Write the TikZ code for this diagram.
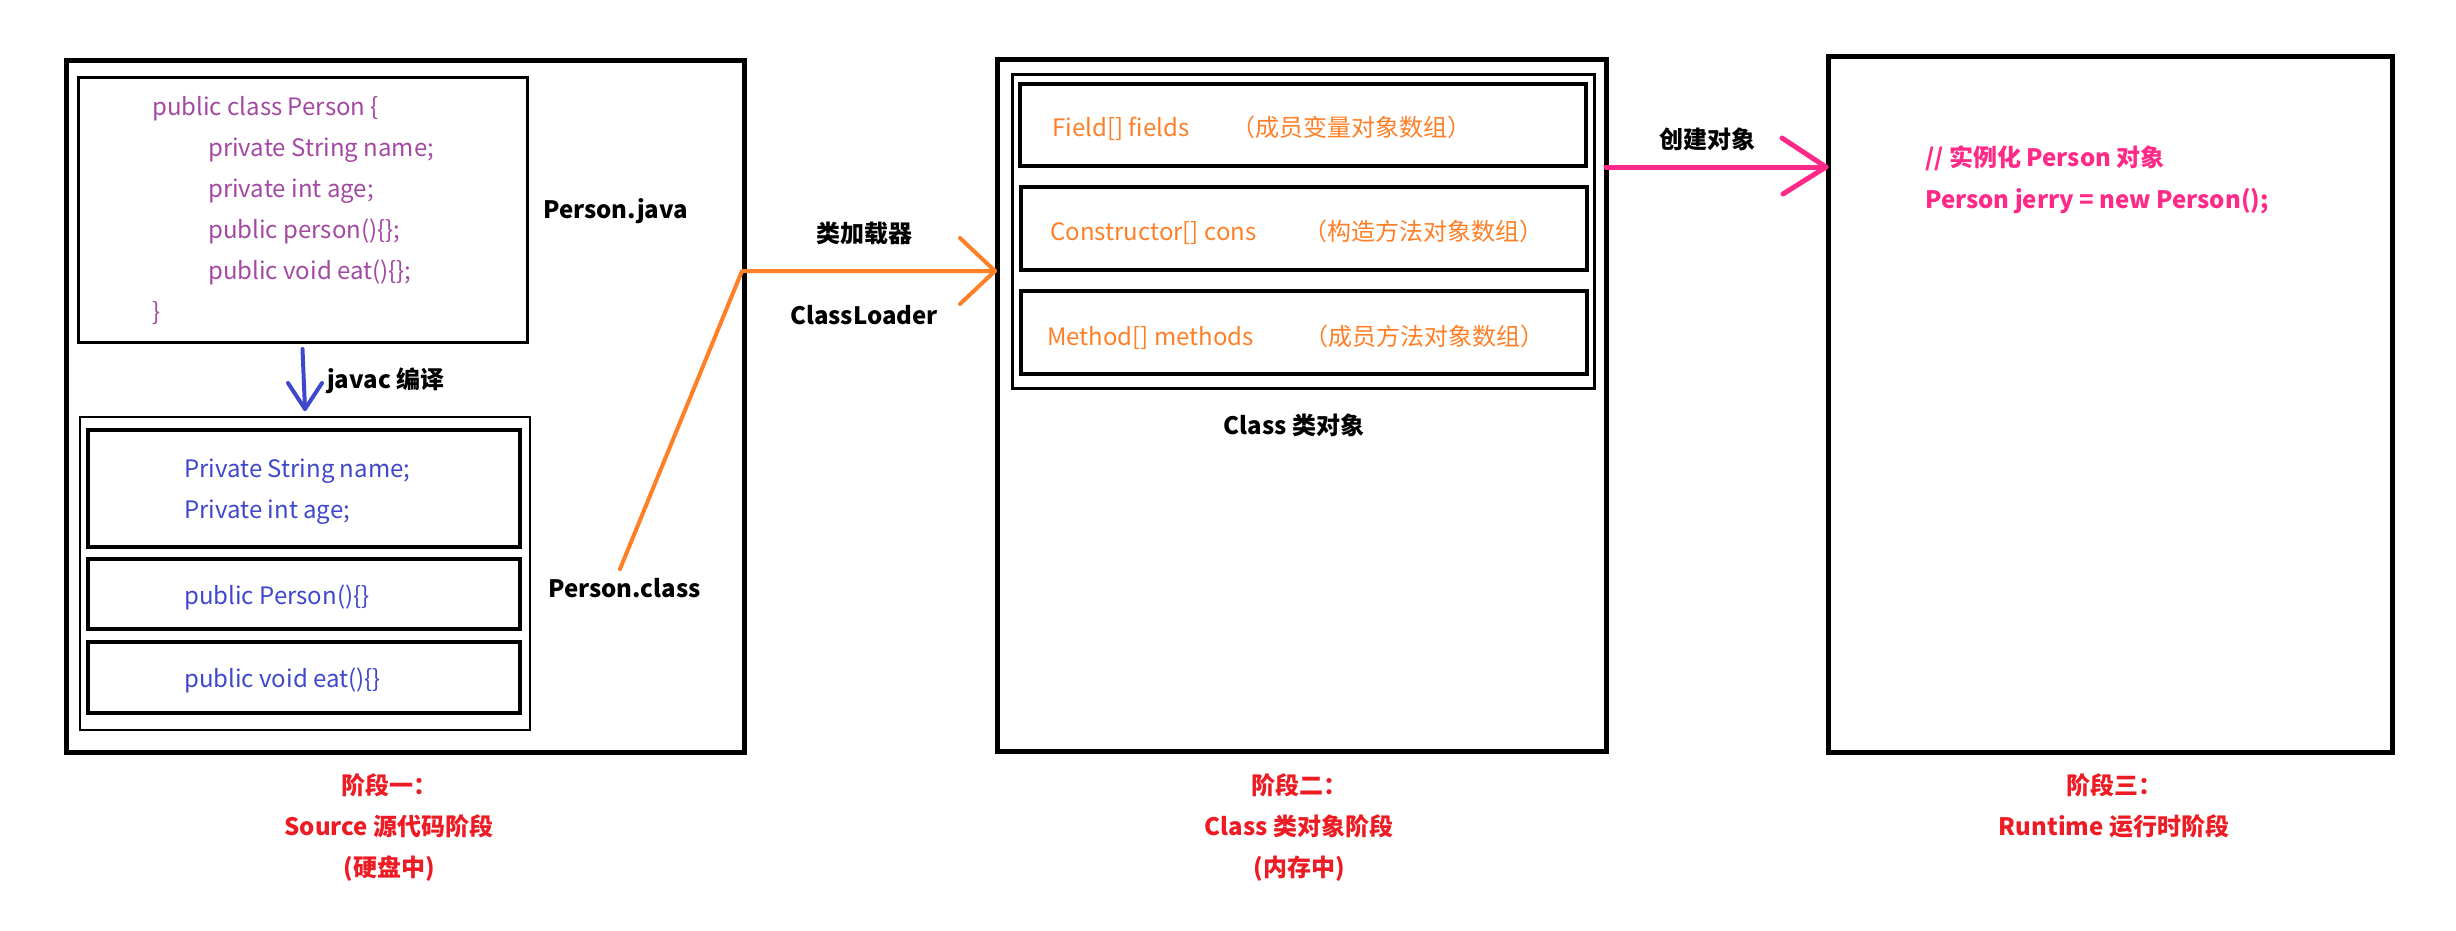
\documentclass[tikz,border=0pt]{standalone}
\usepackage{fontspec}
\setmainfont{Noto Sans CJK SC}
\usetikzlibrary{fit}
\definecolor{purp}{HTML}{A349A4}
\definecolor{indig}{HTML}{3F48CC}
\definecolor{orng}{HTML}{FF7F27}
\definecolor{pnk}{HTML}{FF2A87}
\definecolor{rd}{HTML}{ED1C24}
\tikzset{
  box/.style={draw=black, inner sep=0pt, outer sep=0pt, line width=#1},
  txt/.style={inner sep=0pt, text height=20pt, text depth=3pt, font=\fontsize{24}{28}\selectfont},
  code/.style={txt, anchor=west, text=purp},
  bcode/.style={txt, anchor=west, text=indig},
  ocode/.style={txt, anchor=west, text=orng},
  lbl/.style={txt, font=\fontsize{24}{28}\selectfont\bfseries, text=black},
  pcode/.style={txt, anchor=west, font=\fontsize{24}{28}\selectfont\bfseries, text=pnk},
  captxt/.style={txt, font=\fontsize{24}{28}\selectfont\bfseries, text=rd},
  bluearr/.style={draw=indig, line width=4pt, line cap=round, line join=round},
  orangearr/.style={draw=orng, line width=4pt, line cap=round, line join=round},
  pinkarr/.style={draw=pnk, line width=5pt, line cap=round, line join=round},
}
\begin{document}
\begin{tikzpicture}[x=1pt,y=-1pt]
\useasboundingbox[fill=white] (0,0) rectangle (2456,930);

% ---------- stage 1 ----------
\node[box=5pt, fit={(66,60) (744,752)}] (b1) {};
\node[box=3pt, fit={(78,77) (527,342)}] (src) {};
\node[box=2.5pt, fit={(80,417) (530,730)}] (cls) {};
\node[box=3.5pt, fit={(88,430) (520,547)}] (c1) {};
\node[box=3.5pt, fit={(88,559) (520,629)}] (c2) {};
\node[box=3.5pt, fit={(88,642) (520,713)}] (c3) {};

\node[code] (s1) at (152,107) {public class Person \{};
\node[code] (s2) at (208,148) {private String name;};
\node[code] (s3) at (208,189) {private int age;};
\node[code] (s4) at (208,230) {public person()\{\};};
\node[code] (s5) at (208,271) {public void eat()\{\};};
\node[code] (s6) at (152,312) {\}};

\node[bcode] (k1) at (184,469) {Private String name;};
\node[bcode] (k2) at (184,510) {Private int age;};
\node[bcode] (k3) at (184,596) {public Person()\{\}};
\node[bcode] (k4) at (184,679) {public void eat()\{\}};

\node[lbl, anchor=west] (pjava) at (543,210) {Person.java};
\node[lbl, anchor=west] (pclass) at (548,589) {Person.class};
\node[lbl, anchor=west] (javac) at (327,380) {javac 编译};

% javac arrow
\draw[bluearr] ([yshift=-7pt]src.south) -- ([yshift=8pt]cls.north) coordinate (jt);
\draw[bluearr] (jt) ++(-17,-26) -- (jt) -- ++(17,-26);

% ---------- stage 2 ----------
\node[box=5pt, fit={(997,59) (1606,751)}] (b2) {};
\node[box=3pt, fit={(1012,74) (1594,388)}] (obj) {};
\node[box=4pt, fit={(1020,84) (1586,166)}] (f1) {};
\node[box=4pt, fit={(1021,187) (1587,270)}] (f2) {};
\node[box=4pt, fit={(1021,291) (1587,374)}] (f3) {};

\node[ocode] (t1) at (1052,128) {Field[] fields};
\node[ocode] (t1c) at (1231,128) {（成员变量对象数组）};
\node[ocode] (t2) at (1050,232) {Constructor[] cons};
\node[ocode] (t2c) at (1303,232) {（构造方法对象数组）};
\node[ocode] (t3) at (1047,337) {Method[] methods};
\node[ocode] (t3c) at (1304,337) {（成员方法对象数组）};

\node[lbl] (clsobj) at (1294,426) {Class 类对象};

% class loader arrow
\node[lbl] (loader1) at (864,234) {类加载器};
\node[lbl] (loader2) at (864,316) {ClassLoader};
\coordinate (ob) at (620,569);
\coordinate (oc) at (742,271);
\draw[orangearr] (ob) -- (oc) -- ([xshift=-2pt]b2.west |- oc) coordinate (ot);
\draw[orangearr] (ot) ++(-35,-33) -- (ot) -- ++(-35,33);

% ---------- stage 3 ----------
\node[box=5pt, fit={(1828,56) (2392,752)}] (b3) {};
\node[pcode] (r1) at (1925,158) {// 实例化 Person 对象};
\node[pcode] (r2) at (1925,200) {Person jerry = new Person();};

\node[lbl] (create) at (1707,140) {创建对象};
\coordinate (py) at (0,167);
\draw[pinkarr] (b2.east |- py) -- ([xshift=-2pt]b3.west |- py) coordinate (pt);
\draw[pinkarr] (pt) ++(-44,-29) -- (pt) -- ++(-43,27);

% ---------- captions ----------
\node[captxt] (a1) at (389,786) {阶段一：};
\node[captxt] (a2) at (389,827) {Source 源代码阶段};
\node[captxt] (a3) at (389,868) {(硬盘中)};
\node[captxt] (m1) at (1299,786) {阶段二：};
\node[captxt] (m2) at (1299,827) {Class 类对象阶段};
\node[captxt] (m3) at (1299,868) {(内存中)};
\node[captxt] (n1) at (2114,786) {阶段三：};
\node[captxt] (n2) at (2114,827) {Runtime 运行时阶段};
\end{tikzpicture}
\end{document}
